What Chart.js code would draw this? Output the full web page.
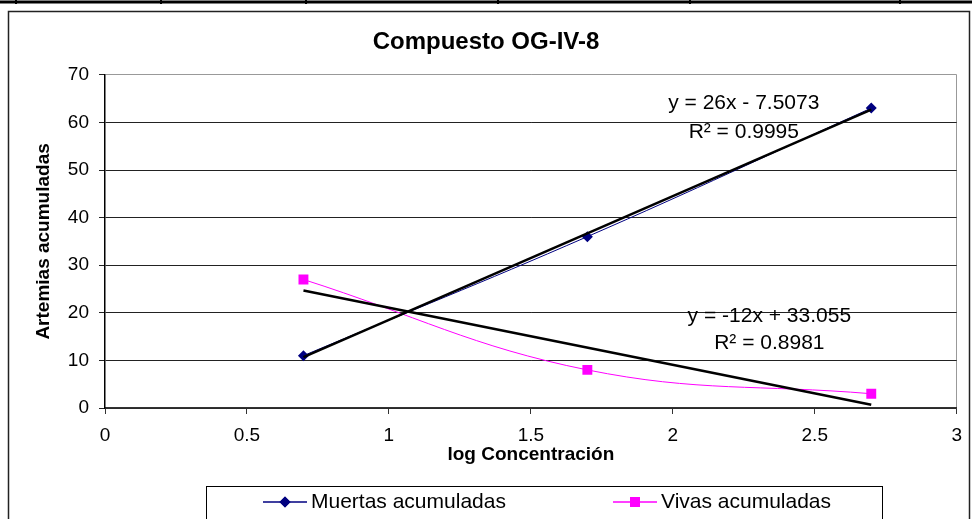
<!DOCTYPE html>
<html>
<head>
<meta charset="utf-8">
<title>Compuesto OG-IV-8</title>
<script src="https://cdn.jsdelivr.net/npm/chart.js@4/dist/chart.umd.min.js"></script>
<style>
  body { margin: 0; background: #fff; }
  canvas { display: block; }
</style>
</head>
<body>
<canvas id="myChart" width="972" height="519"></canvas>
<script>
// Data
var logConc = [0.699, 1.699, 2.699];
var muertas = [11, 36, 63];
var vivas = [27, 8, 3];

// Trend line end points (as drawn)
var trendX = [0.699, 2.699];
var trendMuertas = [10.67, 62.69];
var trendVivas = [24.67, 0.67];

var xTicks = [0, 0.5, 1, 1.5, 2, 2.5, 3];
var yTicks = [0, 10, 20, 30, 40, 50, 60, 70];

var seriesNames = ['Muertas acumuladas', 'Vivas acumuladas'];
var eqMuertas = ['y = 26x - 7.5073', 'R\u00B2 = 0.9995'];
var eqVivas = ['y = -12x + 33.055', 'R\u00B2 = 0.8981'];

var FONT = "'Liberation Sans', Arial, sans-serif";

function toPoints(xs, ys) {
    return xs.map((x, i) => ({ x: x, y: ys[i] }));
}

// Frame, legend box and trend line labels
var decorPlugin = {
    id: 'decor',
    afterDraw: function(chart) {
        var ctx = chart.ctx;
        var xs = chart.scales.x, ys = chart.scales.y;
        ctx.save();

        // piece of the table row above the chart
        ctx.strokeStyle = '#000';
        ctx.lineWidth = 3;
        ctx.beginPath();
        ctx.moveTo(0, 2); ctx.lineTo(972, 2);
        ctx.stroke();
        ctx.lineWidth = 2;
        [16, 161, 306, 498, 690, 900].forEach(function(px) {
            ctx.beginPath();
            ctx.moveTo(px, 0); ctx.lineTo(px, 4);
            ctx.stroke();
        });

        // chart border
        ctx.strokeStyle = '#222';
        ctx.lineWidth = 1.5;
        ctx.strokeRect(8.5, 11.5, 961, 520);

        // trend line equations
        ctx.fillStyle = '#000';
        ctx.font = '21px ' + FONT;
        ctx.textAlign = 'center';
        ctx.textBaseline = 'middle';
        ctx.fillText(eqMuertas[0], xs.getPixelForValue(2.25), ys.getPixelForValue(64.1));
        ctx.fillText(eqMuertas[1], xs.getPixelForValue(2.25), ys.getPixelForValue(58.0));
        ctx.fillText(eqVivas[0], xs.getPixelForValue(2.34), ys.getPixelForValue(19.3));
        ctx.fillText(eqVivas[1], xs.getPixelForValue(2.34), ys.getPixelForValue(13.7));

        // legend box
        ctx.strokeStyle = '#000';
        ctx.lineWidth = 1;
        ctx.strokeRect(206.5, 486.5, 676, 40);

        var items = [
            { x0: 263, color: '#000080', style: 'rectRot', r: 5.5, name: seriesNames[0] },
            { x0: 613, color: '#FF00FF', style: 'rect', r: 7, name: seriesNames[1] }
        ];
        var ly = 502;
        items.forEach(function(it) {
            ctx.strokeStyle = it.color;
            ctx.lineWidth = 1.5;
            ctx.beginPath();
            ctx.moveTo(it.x0, ly); ctx.lineTo(it.x0 + 44, ly);
            ctx.stroke();
            ctx.fillStyle = it.color;
            Chart.helpers.drawPoint(ctx, { pointStyle: it.style, radius: it.r, borderWidth: 0 }, it.x0 + 22, ly);
            ctx.fill();
            ctx.fillStyle = '#000';
            ctx.textAlign = 'left';
            ctx.font = '21px ' + FONT;
            ctx.fillText(it.name, it.x0 + 48, ly);
        });
        ctx.restore();
    }
};

var ctx = document.getElementById('myChart').getContext('2d');
var myChart = new Chart(ctx, {
    type: 'line',
    data: {
        datasets: [{
            label: 'Tendencia muertas',
            data: toPoints(trendX, trendMuertas),
            borderColor: '#000',
            borderWidth: 2.5,
            pointRadius: 0,
            tension: 0,
            order: 0
        }, {
            label: 'Tendencia vivas',
            data: toPoints(trendX, trendVivas),
            borderColor: '#000',
            borderWidth: 2.5,
            pointRadius: 0,
            tension: 0,
            order: 0
        }, {
            label: seriesNames[0],
            data: toPoints(logConc, muertas),
            borderColor: '#000080',
            backgroundColor: '#000080',
            borderWidth: 1,
            pointStyle: 'rectRot',
            pointRadius: 5.5,
            pointBorderWidth: 0,
            tension: 0.4,
            order: 1
        }, {
            label: seriesNames[1],
            data: toPoints(logConc, vivas),
            borderColor: '#FF00FF',
            backgroundColor: '#FF00FF',
            borderWidth: 1,
            pointStyle: 'rect',
            pointRadius: 7,
            pointBorderWidth: 0,
            tension: 0.4,
            order: 1
        }]
    },
    options: {
        responsive: false,
        animation: false,
        devicePixelRatio: 1,
        layout: {
            padding: { left: 10, right: 10, top: 28, bottom: 53 }
        },
        plugins: {
            legend: { display: false },
            tooltip: { enabled: false },
            title: {
                display: true,
                text: 'Compuesto OG-IV-8',
                color: '#000',
                font: { family: FONT, size: 24, weight: 'bold' },
                padding: { top: 0, bottom: 18 }
            }
        },
        scales: {
            x: {
                type: 'linear',
                min: 0,
                max: 3,
                afterBuildTicks: function(scale) {
                    scale.ticks = xTicks.map(v => ({ value: v }));
                },
                afterFit: function(scale) {
                    scale.height = 58;
                },
                ticks: {
                    color: '#000',
                    padding: 10,
                    maxRotation: 0,
                    font: { family: FONT, size: 19 },
                    callback: function(value) {
                        return String(value);
                    }
                },
                grid: {
                    color: function(c) { return c.tick && c.tick.value === 3 ? '#999' : 'rgba(0,0,0,0)'; },
                    tickColor: '#333',
                    tickLength: 6
                },
                border: { color: '#333', width: 1.5 },
                title: {
                    display: true,
                    text: 'log Concentración',
                    color: '#000',
                    font: { family: FONT, size: 19, weight: 'bold' },
                    padding: { top: 0, bottom: 0 }
                }
            },
            y: {
                min: 0,
                max: 70,
                afterBuildTicks: function(scale) {
                    scale.ticks = yTicks.map(v => ({ value: v }));
                },
                afterFit: function(scale) {
                    scale.width = 95;
                },
                ticks: {
                    color: '#000',
                    padding: 10,
                    font: { family: FONT, size: 19 }
                },
                grid: {
                    color: function(c) { return c.tick && c.tick.value === 70 ? '#999' : '#222'; },
                    tickColor: '#222',
                    tickLength: 6
                },
                border: { color: '#000', width: 1.5 },
                title: {
                    display: true,
                    text: 'Artemias acumuladas',
                    color: '#000',
                    font: { family: FONT, size: 19, weight: 'bold' },
                    padding: { top: 22, bottom: 0 }
                }
            }
        }
    },
    plugins: [decorPlugin]
});
</script>
</body>
</html>
